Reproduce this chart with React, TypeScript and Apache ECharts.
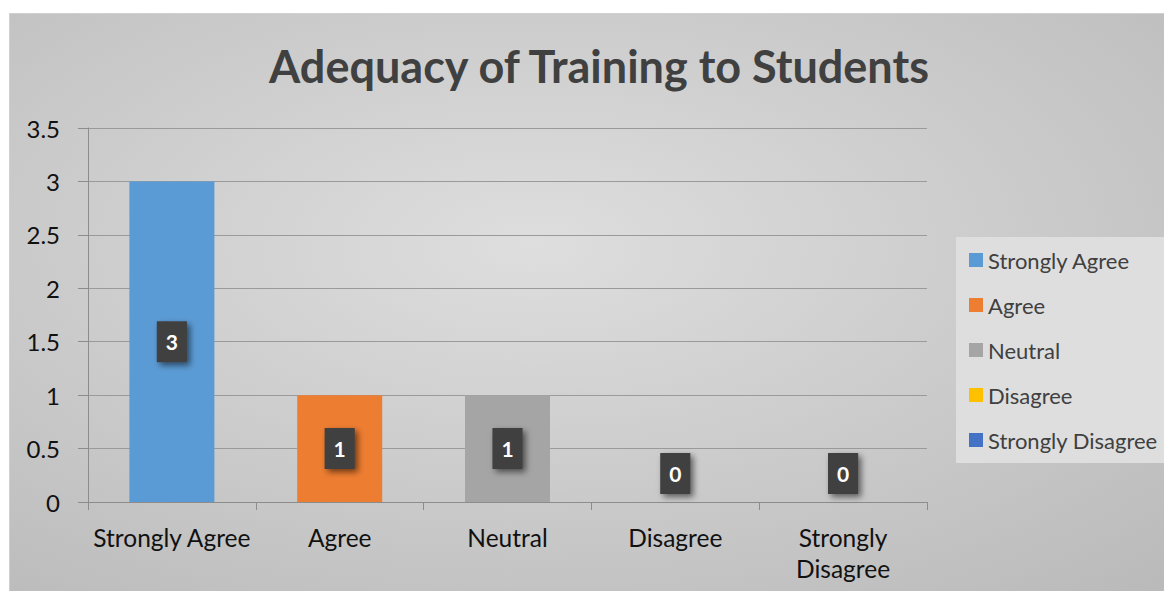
import React, { useEffect, useRef } from "react";
import * as echarts from "echarts";

const titleText = "Adequacy of Training to Students";
const categories = ["Strongly Agree", "Agree", "Neutral", "Disagree", "Strongly Disagree"];
const values = [3, 1, 1, 0, 0];
const colors = ["#5B9BD5", "#ED7D31", "#A5A5A5", "#FFC000", "#4472C4"];
const yTicks = { min: 0, max: 3.5, interval: 0.5 };

const FONT = "Lato, 'Open Sans', sans-serif";

export default function App() {
  const ref = useRef<HTMLDivElement>(null);
  useEffect(() => {
    if (!ref.current) return;
    const chart = echarts.init(ref.current, null, { renderer: "svg" });
    const series = categories.map((name, i) => ({
      name,
      type: "bar",
      stack: "all",
      barWidth: 85,
      itemStyle: { color: colors[i] },
      data: categories.map((_, j) => {
        if (j !== i) return "-";
        const v = values[i];
        return v === 0
          ? { value: v, label: { position: "insideBottom", distance: 8 } }
          : v;
      }),
      label: {
        show: true,
        position: "inside",
        formatter: "{c}",
        color: "#ffffff",
        fontFamily: FONT,
        fontWeight: "bold",
        fontSize: 21,
        lineHeight: 24,
        backgroundColor: "#404040",
        padding: [8, 9, 9, 9],
        shadowColor: "rgba(0,0,0,0.55)",
        shadowBlur: 6,
        shadowOffsetX: 3,
        shadowOffsetY: 3,
      },
    }));
    chart.setOption({
      animation: false,
      backgroundColor: {
        type: "radial",
        x: 0.45,
        y: 0.4,
        r: 0.8,
        colorStops: [
          { offset: 0, color: "#dedede" },
          { offset: 1, color: "#bababa" },
        ],
      },
      title: {
        text: titleText,
        left: 584,
        top: 24,
        textAlign: "center",
        textStyle: {
          fontFamily: FONT,
          fontWeight: "bold",
          fontSize: 45,
          color: "#404040",
        },
      },
      legend: {
        orient: "vertical",
        left: 946,
        top: 223,
        backgroundColor: "#dedede",
        padding: [11, 8, 11, 13],
        itemWidth: 14,
        itemHeight: 14,
        itemGap: 21,
        icon: "rect",
        data: categories,
        textStyle: {
          fontFamily: FONT,
          fontSize: 22,
          lineHeight: 24,
          color: "#404040",
        },
      },
      grid: { left: 78, right: 245, top: 114, bottom: 89, containLabel: false },
      xAxis: {
        type: "category",
        data: categories,
        axisLine: { lineStyle: { color: "#8c8c8c", width: 1 } },
        axisTick: { show: true, length: 8, lineStyle: { color: "#8c8c8c" } },
        axisLabel: {
          fontFamily: FONT,
          fontSize: 24.5,
          lineHeight: 31,
          color: "#111111",
          margin: 20,
          interval: 0,
          formatter: (v: string) => (v.length > 15 ? v.replace(" ", "\n") : v),
        },
      },
      yAxis: {
        type: "value",
        min: yTicks.min,
        max: yTicks.max,
        interval: yTicks.interval,
        axisLine: { show: true, lineStyle: { color: "#8c8c8c", width: 1 } },
        axisTick: { show: true, length: 10, lineStyle: { color: "#8c8c8c" } },
        splitLine: { lineStyle: { color: "#9a9a9a", width: 1 } },
        axisLabel: {
          fontFamily: FONT,
          fontSize: 24,
          color: "#111111",
          margin: 28,
        },
      },
      series,
    });
    return () => chart.dispose();
  }, []);
  return (
    <div
      ref={ref}
      style={{ width: 1162, height: 577, marginLeft: 2, marginTop: 6, boxShadow: "0 0 0 1px #d0d0d0" }}
    />
  );
}
